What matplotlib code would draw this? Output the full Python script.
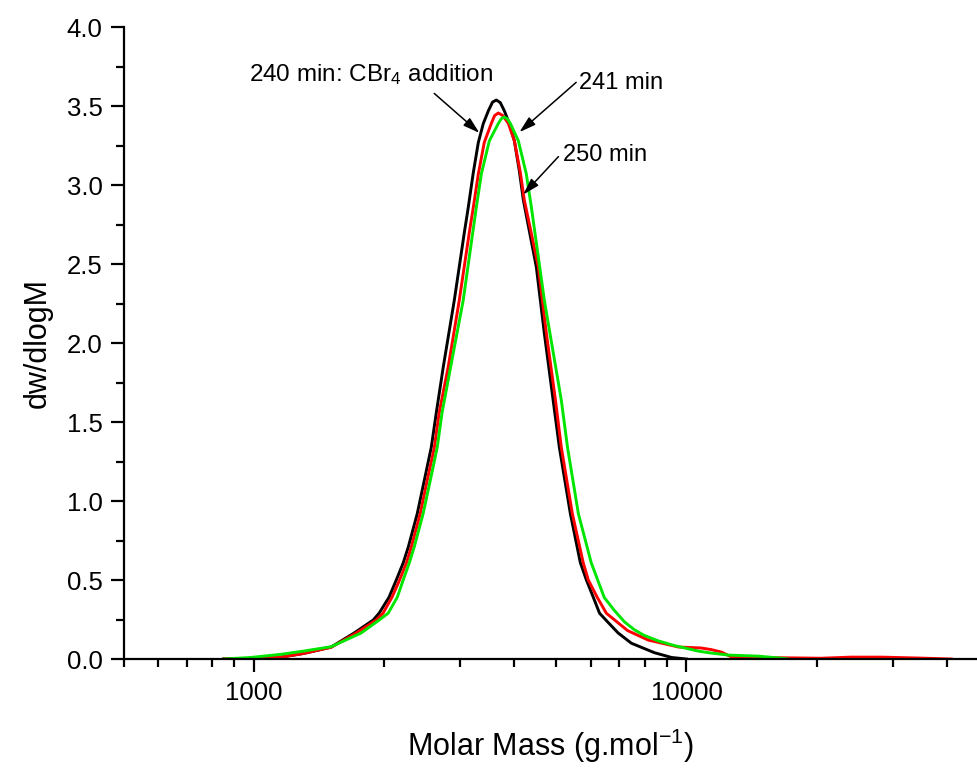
import matplotlib

matplotlib.use("Agg")
import matplotlib.pyplot as plt
from matplotlib.ticker import FixedLocator, LogLocator, MultipleLocator, NullFormatter

plt.rcParams["font.family"] = ["Liberation Sans", "DejaVu Sans"]
plt.rcParams["mathtext.fontset"] = "custom"
plt.rcParams["mathtext.rm"] = "Liberation Sans"
plt.rcParams["mathtext.it"] = "Liberation Sans"

# GPC traces (molar mass g/mol, dw/dlogM)
mass_240 = [850, 1000, 1155, 1300, 1400, 1507, 1704, 1886, 1947, 2052, 2132, 2212, 2273, 2384,
            2475, 2569, 2639, 2739, 2904, 3064, 3129, 3214, 3301, 3390, 3482, 3560, 3633, 3710,
            3791, 3893, 3999, 4106, 4195, 4496, 4692, 4845, 5082, 5389, 5683, 5870, 6091, 6295,
            6598, 6950, 7459, 8434, 9233, 10000]
dw_240 = [0.0, 0.003, 0.012, 0.035, 0.055, 0.076, 0.165, 0.247, 0.291, 0.392, 0.50, 0.608, 0.709,
          0.92, 1.13, 1.34, 1.56, 1.85, 2.27, 2.70, 2.86, 3.08, 3.27, 3.39, 3.47, 3.525, 3.538,
          3.522, 3.47, 3.39, 3.28, 3.09, 2.905, 2.48, 2.06, 1.77, 1.34, 0.92, 0.61, 0.50, 0.39,
          0.29, 0.23, 0.165, 0.10, 0.04, 0.01, 0.0]

mass_241 = [850, 1000, 1155, 1300, 1400, 1507, 1723, 1916, 1987, 2085, 2170, 2250, 2310, 2422,
            2514, 2612, 2680, 2812, 2982, 3146, 3214, 3301, 3407, 3537, 3600, 3672, 3760, 3873,
            3999, 4128, 4217, 4545, 4743, 4977, 5135, 5446, 5770, 5930, 6220, 6527, 7310, 8160,
            9590, 10800, 11400, 12050, 12710, 14000, 16600, 20500, 24000, 28300, 34800, 41000]
dw_241 = [0.0, 0.003, 0.012, 0.035, 0.055, 0.074, 0.165, 0.247, 0.29, 0.392, 0.50, 0.608, 0.709,
          0.92, 1.13, 1.34, 1.56, 1.85, 2.27, 2.70, 2.86, 3.07, 3.27, 3.39, 3.44, 3.456, 3.44,
          3.39, 3.28, 3.08, 2.905, 2.48, 2.06, 1.64, 1.34, 0.92, 0.61, 0.50, 0.39, 0.29, 0.18,
          0.12, 0.076, 0.07, 0.06, 0.044, 0.013, 0.01, 0.008, 0.005, 0.012, 0.012, 0.006, 0.0]

mass_250 = [850, 984, 1155, 1300, 1507, 1769, 1947, 2042, 2144, 2212, 2285, 2346, 2460, 2555,
            2652, 2721, 3045, 3266, 3354, 3500, 3672, 3730, 3791, 3850, 3914, 4085, 4262, 4378,
            4692, 5134, 5308, 5624, 6021, 6454, 6800, 7190, 7580, 7980, 8603, 9380, 10660, 11250,
            12500, 14700, 16600, 17200]
dw_250 = [0.0, 0.01, 0.03, 0.05, 0.078, 0.165, 0.247, 0.29, 0.392, 0.50, 0.608, 0.709, 0.92,
          1.13, 1.34, 1.56, 2.27, 2.86, 3.07, 3.28, 3.39, 3.42, 3.43, 3.42, 3.39, 3.28, 3.07, 2.86,
          2.27, 1.64, 1.34, 0.92, 0.61, 0.39, 0.31, 0.235, 0.185, 0.15, 0.115, 0.085, 0.05, 0.04,
          0.025, 0.018, 0.005, 0.0]

series = [
    (mass_240, dw_240, "#000000"),
    (mass_241, dw_241, "#ff0000"),
    (mass_250, dw_250, "#00e600"),
]

fig = plt.figure(figsize=(9.77, 7.69), dpi=100)
ax = fig.add_axes([0.1269, 0.143, 0.8731, 0.8218])

for mass, dw, color in series:
    ax.plot(mass, dw, color=color, linewidth=2.1, solid_joinstyle="round")

ax.set_xscale("log")
ax.set_xlim(500, 47000)
ax.set_ylim(0, 4.0)

ax.xaxis.set_major_locator(FixedLocator([1000, 10000]))
ax.xaxis.set_major_formatter(plt.FuncFormatter(lambda v, _: f"{v:.0f}"))
ax.xaxis.set_minor_locator(LogLocator(base=10, subs=range(2, 10)))
ax.xaxis.set_minor_formatter(NullFormatter())
ax.yaxis.set_major_locator(MultipleLocator(0.5))
ax.yaxis.set_minor_locator(MultipleLocator(0.25))
ax.yaxis.set_major_formatter(plt.FuncFormatter(lambda v, _: f"{v:.1f}"))

for side in ("top", "right"):
    ax.spines[side].set_visible(False)
for side in ("left", "bottom"):
    ax.spines[side].set_linewidth(1.6)

ax.tick_params(which="major", direction="out", length=9.5, width=1.6, labelsize=18.5, pad=6)
ax.tick_params(which="minor", direction="out", length=5.5, width=1.6)

ax.set_xlabel("Molar Mass (g.mol$^{-1}$)", fontsize=22, labelpad=16)
ax.set_ylabel("dw/dlogM", fontsize=22, labelpad=10)

arrow = dict(arrowstyle="-|>,head_length=1.0,head_width=0.3", color="black", lw=1.1,
             mutation_scale=10, shrinkA=0, shrinkB=0)
ax.annotate("", xy=(3320, 3.33), xytext=(2610, 3.58), arrowprops=arrow)
ax.annotate("", xy=(4108, 3.335), xytext=(5558, 3.65), arrowprops=arrow)
ax.annotate("", xy=(4193, 2.94), xytext=(5057, 3.18), arrowprops=arrow)
ax.text(973, 3.70, "240 min: CBr$_4$ addition", fontsize=17.5, ha="left", va="center")
ax.text(5648, 3.645, "241 min", fontsize=17, ha="left", va="center")
ax.text(5192, 3.19, "250 min", fontsize=17, ha="left", va="center")

fig.savefig("out.png", dpi=100)
